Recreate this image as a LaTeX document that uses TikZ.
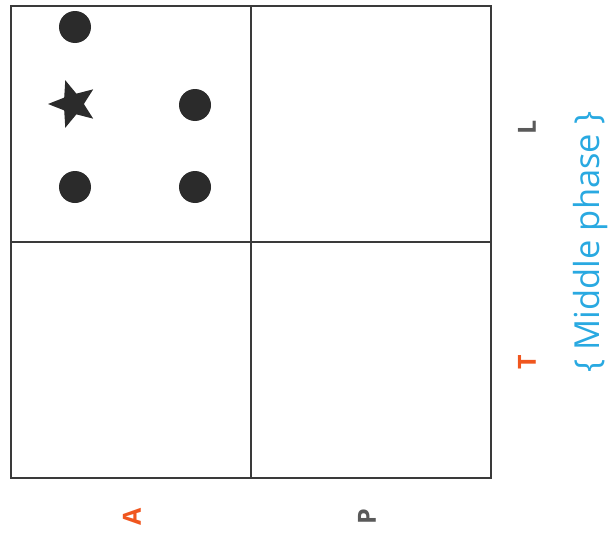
\documentclass[tikz,border=0pt]{standalone}
\usepackage{fontspec}
\setmainfont{Open Sans}
\usetikzlibrary{shapes.geometric}
\definecolor{lineg}{HTML}{3A3A3A}
\definecolor{dotc}{HTML}{2B2B2B}
\definecolor{orng}{HTML}{F0561E}
\definecolor{grayt}{HTML}{5A5A5A}
\definecolor{bluet}{HTML}{29A9E1}
\begin{document}
\begin{tikzpicture}[x=1pt,y=-1pt,
  cell/.style={draw=lineg,line width=1.6pt},
  dot/.style={circle,fill=dotc,minimum size=32pt,inner sep=0pt},
  starm/.style={star,star points=5,star point ratio=2.3,fill=dotc,minimum size=50pt,inner sep=0pt,shape border rotate=90},
  lab/.style={font=\bfseries\fontsize{25}{25}\selectfont,rotate=90,inner sep=0pt}]
\useasboundingbox (0,0) rectangle (616,538);
\node[cell,minimum width=240pt,minimum height=236pt,inner sep=0pt,anchor=north west] (c11) at (10,5) {};
\node[cell,minimum width=240pt,minimum height=236pt,inner sep=0pt,anchor=north west] (c12) at (250,5) {};
\node[cell,minimum width=240pt,minimum height=236pt,inner sep=0pt,anchor=north west] (c21) at (10,241) {};
\node[cell,minimum width=240pt,minimum height=236pt,inner sep=0pt,anchor=north west] (c22) at (250,241) {};
\node[dot] (d1) at (75,27) {};
\node[dot] (d2) at (195,105) {};
\node[dot] (d3) at (75,187) {};
\node[dot] (d4) at (195,187) {};
\node[starm] (s1) at (73,104) {};
\node[lab,text=grayt] (L) at (527,127) {L};
\node[lab,text=orng] (T) at (527,362) {T};
\node[lab,text=orng] (A) at (132,517) {A};
\node[lab,text=grayt] (P) at (367,517) {P};
\node[rotate=90,text=bluet,font=\fontsize{34.5}{34.5}\selectfont,inner sep=0pt] (mp) at (591,242) {\{ Middle phase \}};
\end{tikzpicture}
\end{document}
